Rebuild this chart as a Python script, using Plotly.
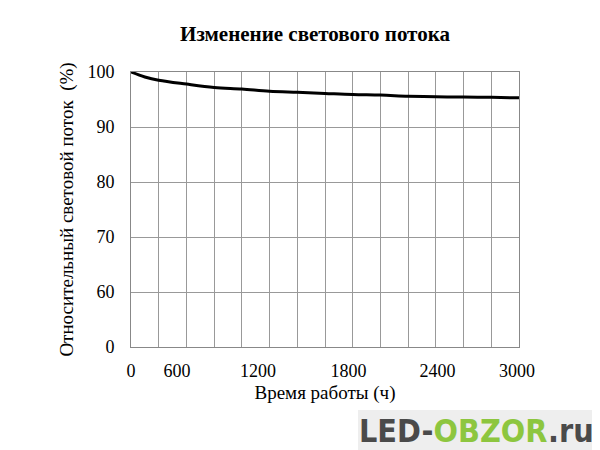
import plotly.graph_objects as go

# Data
hours = [0, 107, 214, 429, 643, 857, 1071, 1286, 1500, 1714, 1929, 2143, 2357, 2571, 2786, 3000]
flux = [100, 99.1, 98.5, 97.8, 97.2, 96.9, 96.5, 96.3, 96.1, 95.9, 95.8, 95.6, 95.5, 95.45, 95.4, 95.3]

x_tick_text = ["0", "600", "1200", "1800", "2400", "3000"]
x_tick_pos = [0, 356, 982, 1681, 2369, 2985]
x_grid = [i * 3000 / 14 for i in range(15)]

y_tick_text = ["0", "60", "70", "80", "90", "100"]
y_tick_pos = [50, 60, 70, 80, 90, 100]

title_text = "Изменение светового потока"
x_title = "Время работы (ч)"
y_title = "Относительный световой поток  (%)"

serif = "Liberation Serif, Times New Roman, serif"

# page body has an 8px margin, so the figure is 592x442 and offset by 8px
W, H = 592, 442
L, T, R, B = 123, 64, 81, 103
pw, ph = W - L - R, H - T - B


def px(xp):
    return (xp - 8 - L) / pw


def py(yp):
    return (H - B - (yp - 8)) / ph


fig = go.Figure()
fig.add_trace(go.Scatter(x=hours, y=flux, mode="lines",
                         line=dict(color="black", width=3, shape="spline"),
                         showlegend=False, hoverinfo="skip"))

fig.update_layout(
    width=W, height=H,
    margin=dict(l=L, r=R, t=T, b=B),
    paper_bgcolor="white", plot_bgcolor="white",
    title=dict(text="<b>" + title_text + "</b>", x=(315 - 8) / W, xanchor="center",
               y=1 - (34 - 8) / H, yanchor="middle",
               font=dict(family=serif, size=21, color="black")),
    font=dict(family=serif, size=18, color="black"),
)

fig.update_xaxes(range=[0, 3000], tickvals=x_tick_pos, ticktext=x_tick_text,
                 showgrid=False, zeroline=False, ticks="",
                 showline=True, linecolor="#888", linewidth=1, mirror=True,
                 tickfont=dict(family=serif, size=18, color="black"),
                 ticklabelstandoff=7,
                 minor=dict(tickvals=x_grid, showgrid=True, gridcolor="#999", gridwidth=1),
                 title=dict(text=x_title, font=dict(family=serif, size=19, color="black"),
                            standoff=6))

fig.update_yaxes(range=[50, 100], tickvals=y_tick_pos, ticktext=y_tick_text,
                 showgrid=True, gridcolor="#999", gridwidth=1, zeroline=False, ticks="",
                 showline=True, linecolor="#888", linewidth=1, mirror=True,
                 tickfont=dict(family=serif, size=18, color="black"),
                 ticklabelstandoff=12,
                 title=dict(text=y_title, font=dict(family=serif, size=19, color="black"),
                            standoff=8))

# Watermark
fig.add_shape(type="rect", xref="paper", yref="paper",
              x0=px(358), x1=px(602), y0=py(452), y1=py(410),
              fillcolor="#eeeeee", line=dict(width=0), layer="below")
fig.add_annotation(xref="paper", yref="paper", x=px(476), y=py(431),
                   xanchor="center", yanchor="middle", showarrow=False,
                   text="<b>LED-<span style='color:#8dc63f'>OBZOR</span>.ru</b>",
                   font=dict(family="DejaVu Sans Condensed, sans-serif",
                             size=32, color="#4a4a4a"))

fig.write_html("out.html")
